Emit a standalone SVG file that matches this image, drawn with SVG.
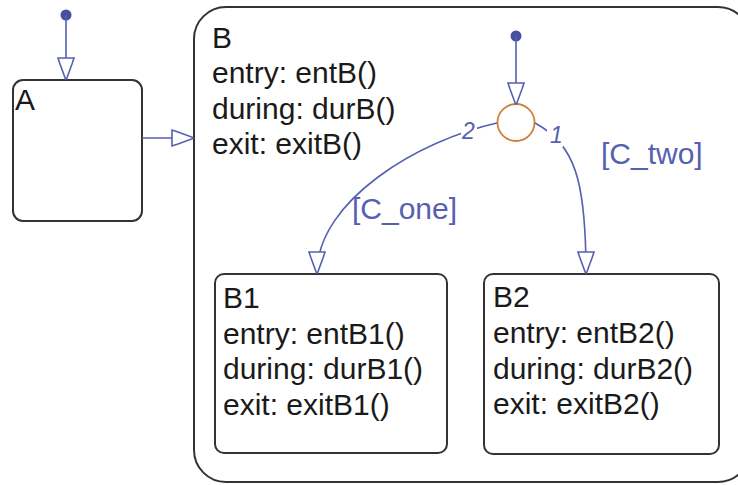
<svg xmlns="http://www.w3.org/2000/svg" width="738" height="485" viewBox="0 0 738 485">
<style>
.st{fill:#fff;stroke:#333;stroke-width:2}
.tx{font-family:"Liberation Sans",Arial,sans-serif;font-size:30px;fill:#1a1a1a}
.tr{fill:none;stroke:#5561b0;stroke-width:1.6}
.lb{font-family:"Liberation Sans",Arial,sans-serif;font-size:30px;fill:#5561b0}
.pr{font-family:"Liberation Sans",Arial,sans-serif;font-size:23px;font-style:italic;fill:#5561b0}
.dot{fill:#45509f}
</style>
<defs>
<marker id="ah" viewBox="-23 -10 25 20" refX="0" refY="0" markerWidth="25" markerHeight="20" markerUnits="userSpaceOnUse" orient="auto">
<path d="M-21,-8 L-21,8 L-15,6 L0,0.5 L0,-0.5 L-15,-6 Z" fill="#fff" stroke="#5561b0" stroke-width="1.6" stroke-linejoin="miter"/>
</marker>
</defs>
<g id="B">
<rect class="st" x="194" y="7" width="556" height="475" rx="32" ry="32"/>
<text class="tx" x="212" y="48">B</text>
<text class="tx" x="212" y="83">entry: entB()</text>
<text class="tx" x="212" y="119">during: durB()</text>
<text class="tx" x="212" y="154">exit: exitB()</text>
</g>
<g id="A">
<rect class="st" x="13" y="80" width="129" height="141" rx="10" ry="10"/>
<text class="tx" x="15" y="110">A</text>
</g>
<g id="B1">
<rect class="st" x="215" y="274" width="232" height="179" rx="9" ry="9"/>
<text class="tx" x="223" y="308">B1</text>
<text class="tx" x="223" y="344">entry: entB1()</text>
<text class="tx" x="223" y="379">during: durB1()</text>
<text class="tx" x="223" y="415">exit: exitB1()</text>
</g>
<g id="B2">
<rect class="st" x="484" y="274" width="235" height="180" rx="9" ry="9"/>
<text class="tx" x="493" y="307">B2</text>
<text class="tx" x="493" y="343">entry: entB2()</text>
<text class="tx" x="493" y="379">during: durB2()</text>
<text class="tx" x="493" y="414">exit: exitB2()</text>
</g>
<g id="junction">
<circle cx="516" cy="122.5" r="18.5" fill="#fff" stroke="#d0803a" stroke-width="1.8"/>
</g>
<g id="connectors">
<circle class="dot" cx="66" cy="15" r="5.5"/>
<path class="tr" d="M66,15 L66,79" marker-end="url(#ah)"/>
<path class="tr" d="M142,138 L193,138" marker-end="url(#ah)"/>
<circle class="dot" cx="516" cy="36" r="5.5"/>
<path class="tr" d="M516,36 L516,104" marker-end="url(#ah)"/>
<path class="tr" d="M497,123 C420,140 317,200 317,273" marker-end="url(#ah)"/>
<path class="tr" d="M535,123 C575,145 586,180 586,273" marker-end="url(#ah)"/>
<rect x="461" y="118" width="16" height="24" fill="#fff"/>
<text class="pr" x="462" y="139">2</text>
<rect x="547" y="123" width="16" height="24" fill="#fff"/>
<text class="pr" x="550" y="143">1</text>
<text class="lb" x="352" y="219">[C_one]</text>
<text class="lb" x="601" y="164">[C_two]</text>
</g>
</svg>
